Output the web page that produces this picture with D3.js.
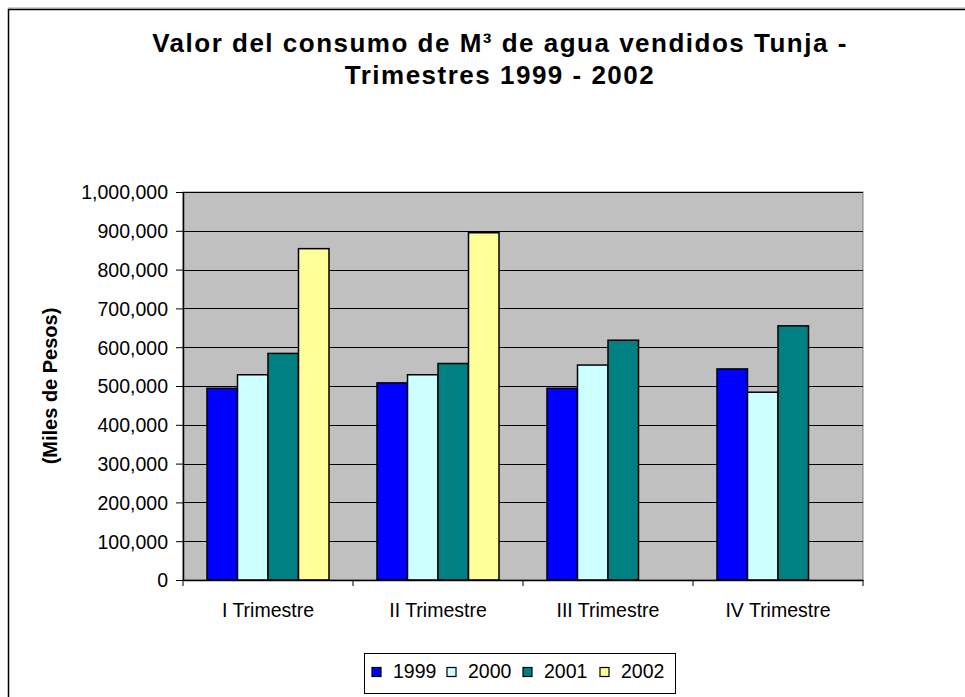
<!DOCTYPE html>
<html>
<head>
<meta charset="utf-8">
<script src="https://cdn.jsdelivr.net/npm/d3@7"></script>
<style>
  body { margin: 0; background: #fff; }
  text { font-family: Arial, "Liberation Sans", sans-serif; }
</style>
</head>
<body>
<svg id="chart" width="965" height="697"></svg>
<script>
// data
var categories = ["I Trimestre", "II Trimestre", "III Trimestre", "IV Trimestre"];
var years = ["1999", "2000", "2001", "2002"];
var v1999 = [494000, 508000, 494000, 544000];
var v2000 = [529000, 529000, 554000, 484000];
var v2001 = [584000, 558000, 618000, 655000];
var v2002 = [854000, 895000, null, null];
var yTicks = [0, 100000, 200000, 300000, 400000, 500000, 600000, 700000, 800000, 900000, 1000000];
var colors = ["#0000FF", "#CCFFFF", "#008080", "#FFFF99"];

var series = [v1999, v2000, v2001, v2002];

var svg = d3.select("#chart");
var fontFamily = "Arial, 'Liberation Sans', sans-serif";

// chart frame (goes off the right / bottom of the window)
svg.append("line").attr("x1", 8).attr("x2", 965).attr("y1", 8).attr("y2", 8)
  .style("stroke", "#a0a0a0").style("stroke-width", 1);
svg.append("path").attr("d", "M8.5,1000V9.5H1000")
  .style("fill", "none").style("stroke", "#000").style("stroke-width", 1.5);

var plotLeft = 183, plotRight = 863, plotTop = 192, plotBottom = 580;

var x0 = d3.scaleBand().domain(categories).range([plotLeft, plotRight]).padding(0);
var x1 = d3.scaleBand().domain(years).range([24, 146]).padding(0);
var y = d3.scaleLinear().domain([0, 1000000]).range([plotBottom, plotTop]);

// plot background
svg.append("rect")
  .attr("x", plotLeft).attr("y", plotTop)
  .attr("width", plotRight - plotLeft).attr("height", plotBottom - plotTop)
  .style("fill", "#C0C0C0")
  .style("stroke", "#808080");

// gridlines
svg.append("g")
  .selectAll("line")
  .data(yTicks.slice(1))
  .enter()
  .append("line")
  .attr("x1", plotLeft).attr("x2", plotRight)
  .attr("y1", function (d) { return Math.round(y(d)) + 0.5; })
  .attr("y2", function (d) { return Math.round(y(d)) + 0.5; })
  .style("stroke", "#000")
  .style("stroke-width", 1);

// bars
var table = [];
categories.forEach(function (c, i) {
  years.forEach(function (yr, j) {
    if (series[j][i] != null) table.push({ cat: c, year: yr, value: series[j][i], color: colors[j] });
  });
});

svg.append("g")
  .selectAll("rect")
  .data(table)
  .enter()
  .append("rect")
  .attr("x", function (d) { return x0(d.cat) + x1(d.year); })
  .attr("y", function (d) { return y(d.value); })
  .attr("width", x1.bandwidth())
  .attr("height", function (d) { return plotBottom - y(d.value); })
  .style("fill", function (d) { return d.color; })
  .style("stroke", "#000")
  .style("stroke-width", 1.5);

// y axis
var yAxis = svg.append("g")
  .attr("transform", "translate(" + plotLeft + ",0)")
  .call(d3.axisLeft(y).tickValues(yTicks).tickFormat(d3.format(",")).tickSize(7).tickSizeOuter(0));
yAxis.select(".domain").style("stroke", "#000").style("stroke-width", 1.5);
yAxis.selectAll(".tick line").style("stroke", "#000");
yAxis.selectAll("text")
  .attr("x", -15)
  .attr("dy", "0.35em")
  .style("font-size", "19.5px")
  .style("fill", "#000")
  .style("font-family", fontFamily);

// x axis
var xAxis = svg.append("g")
  .attr("transform", "translate(0," + plotBottom + ")")
  .call(d3.axisBottom(x0).tickSize(0).tickSizeOuter(0));
xAxis.select(".domain").style("stroke", "#000").style("stroke-width", 1.5);
xAxis.selectAll("text")
  .attr("y", 37)
  .attr("dy", 0)
  .style("font-size", "19.5px")
  .style("fill", "#000")
  .style("font-family", fontFamily);

// category separator ticks
svg.append("g")
  .selectAll("line")
  .data(categories.concat(["end"]))
  .enter()
  .append("line")
  .attr("x1", function (d, i) { return i < categories.length ? x0(d) : plotRight; })
  .attr("x2", function (d, i) { return i < categories.length ? x0(d) : plotRight; })
  .attr("y1", plotBottom).attr("y2", plotBottom + 6)
  .style("stroke", "#000");

// y axis title
svg.append("text")
  .attr("transform", "translate(57," + (plotTop + plotBottom) / 2 + ") rotate(-90)")
  .attr("text-anchor", "middle")
  .style("font-size", "20px")
  .style("font-weight", "bold")
  .text("(Miles de Pesos)");

// title
var title = svg.append("text")
  .attr("text-anchor", "middle")
  .style("font-size", "26px")
  .style("font-weight", "bold")
  .style("letter-spacing", "1.5px");
title.append("tspan").attr("x", 500).attr("y", 52).text("Valor del consumo de M³ de agua vendidos Tunja -");
title.append("tspan").attr("x", 500).attr("y", 84).text("Trimestres 1999 - 2002");

// legend
var legend = svg.append("g");
legend.append("rect")
  .attr("x", 364.5).attr("y", 653.5)
  .attr("width", 311).attr("height", 40)
  .style("fill", "#fff")
  .style("stroke", "#000");

var legendX = [372, 447, 523, 600];
var item = legend.selectAll("g.item")
  .data(years)
  .enter()
  .append("g")
  .attr("class", "item")
  .attr("transform", function (d, i) { return "translate(" + legendX[i] + ",667.5)"; });
item.append("rect")
  .attr("width", 9).attr("height", 9)
  .style("fill", function (d, i) { return colors[i]; })
  .style("stroke", "#000")
  .style("stroke-width", 1.2);
item.append("text")
  .attr("x", 21).attr("y", 10)
  .style("font-size", "19.5px")
  .text(function (d) { return d; });
</script>
</body>
</html>
